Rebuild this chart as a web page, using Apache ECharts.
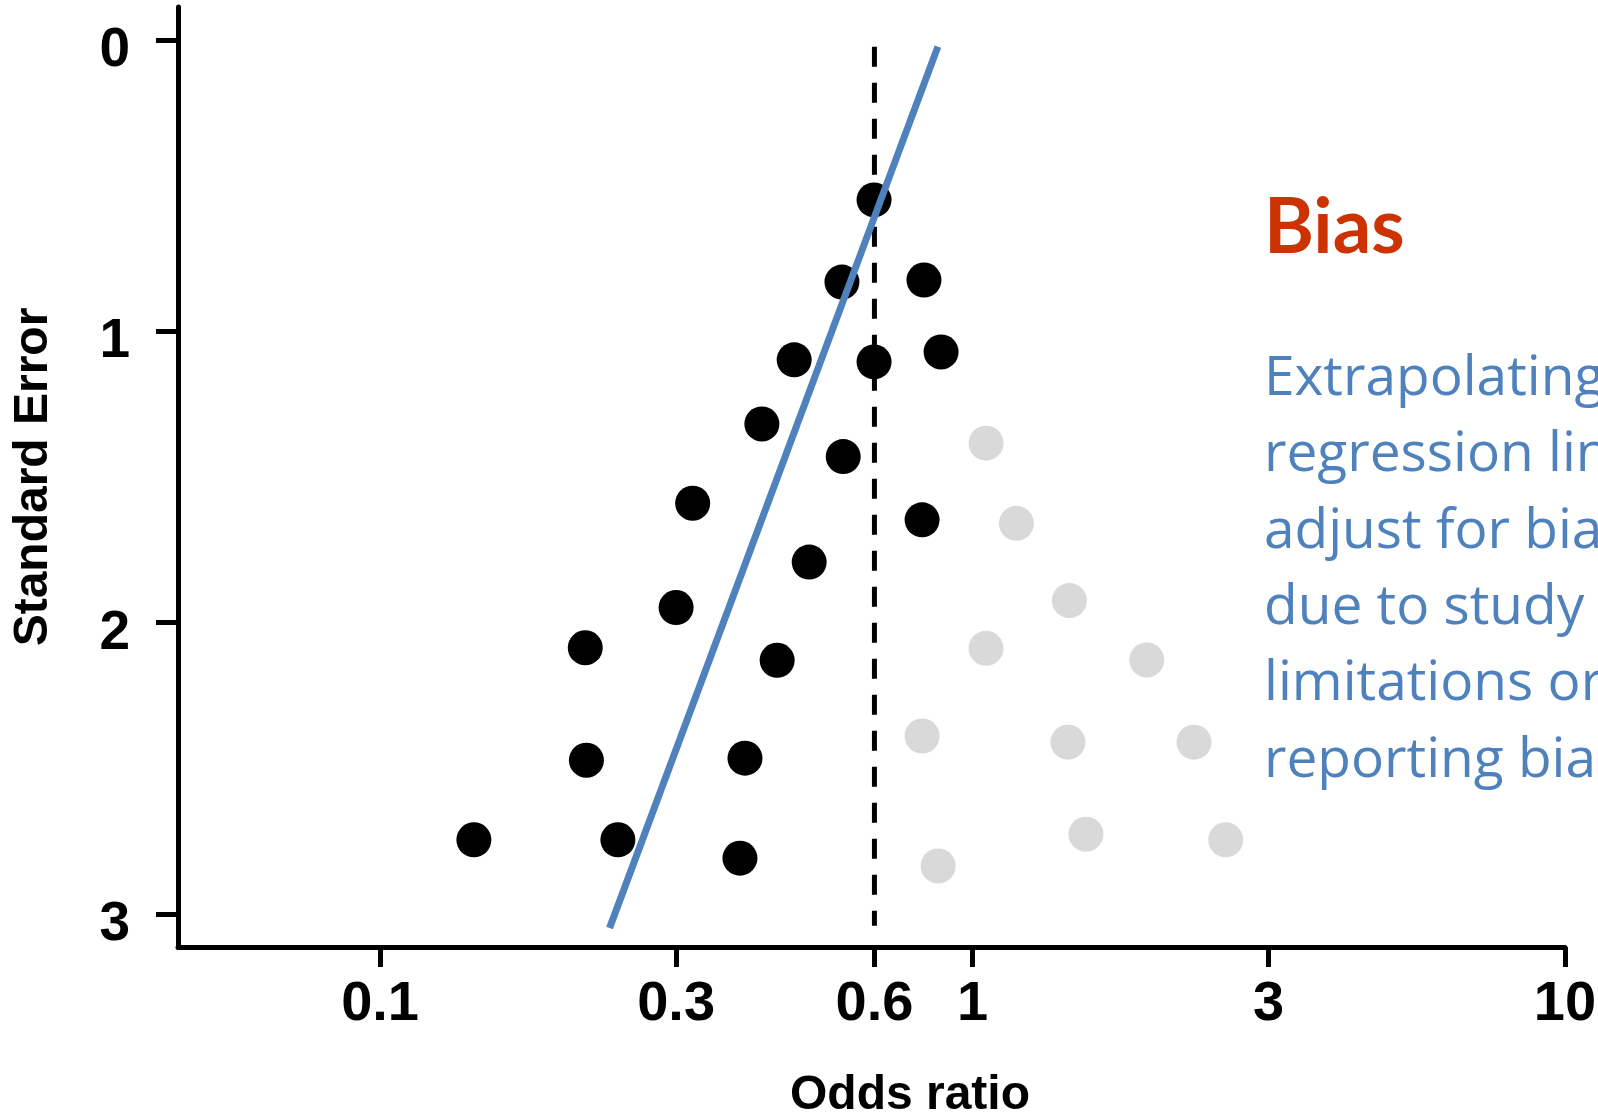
<!DOCTYPE html>
<html>
<head>
<meta charset="utf-8">
<script src="https://cdn.jsdelivr.net/npm/echarts@6/dist/echarts.min.js"></script>
<style>
html,body{margin:0;padding:0;background:#fff;}
#chart{width:1598px;height:1112px;}
</style>
</head>
<body>
<div id="chart"></div>
<script>
// ---- data ----
// observed studies (black)
const studyOR = [0.682, 0.602, 0.828, 0.500, 0.682, 0.885, 0.441, 0.605, 0.337, 0.822,
                 0.530, 0.316, 0.222, 0.468, 0.223, 0.413, 0.144, 0.252, 0.405];
const studySE = [0.549, 0.831, 0.824, 1.098, 1.105, 1.071, 1.318, 1.430, 1.590, 1.647,
                 1.792, 1.948, 2.086, 2.129, 2.472, 2.465, 2.745, 2.745, 2.808];
// missing studies (grey)
const missingOR = [1.054, 1.186, 1.457, 1.054, 1.968, 0.822, 1.449, 2.365, 1.554, 2.675, 0.875];
const missingSE = [1.384, 1.659, 1.924, 2.088, 2.128, 2.389, 2.410, 2.410, 2.726, 2.745, 2.835];
// regression line (end points)
const regressionOR = [0.874, 0.244];
const regressionSE = [0.023, 3.048];
// pooled estimate (dashed line)
const pooledOR = 0.683;
const pooledSE = [0.023, 3.04];
// axis ticks
const xTickValues = [0.1, 0.316, 0.683, 1, 3.16, 10];
const xTickLabels = ['0.1', '0.3', '0.6', '1', '3', '10'];
const yTickValues = [0, 1, 2, 3];
const yTickLabels = ['0', '1', '2', '3'];
const xRange = [0.0456, 10];
const yRange = [-0.113, 3.113];
// annotation text
const titleText = 'Bias';
const noteLines = ['Extrapolating', 'regression line', 'adjust for bias', 'due to study', 'limitations or', 'reporting bias'];

// ---- build ----
const FONT = '"Liberation Sans", Arial, Helvetica, sans-serif';
const lg = Math.log10;
const xTickPos = xTickValues.map(lg);

function labelFor(v, vals, labels) {
  let best = 0;
  for (let i = 1; i < vals.length; i++) {
    if (Math.abs(vals[i] - v) < Math.abs(vals[best] - v)) best = i;
  }
  return labels[best];
}

const studyData = studyOR.map((o, i) => [lg(o), studySE[i]]);
const missingData = missingOR.map((o, i) => [lg(o), missingSE[i]]);
const regressionData = regressionOR.map((o, i) => [lg(o), regressionSE[i]]);
const pooledData = pooledSE.map(s => [lg(pooledOR), s]);

const chart = echarts.init(document.getElementById('chart'), null, {renderer: 'canvas'});
const option = {
  animation: false,
  backgroundColor: '#ffffff',
  grid: {left: 178, right: 33, top: 7, bottom: 165, containLabel: false, outerBoundsMode: 'none'},
  xAxis: {
    type: 'value',
    min: lg(xRange[0]),
    max: lg(xRange[1]),
    name: 'Odds ratio',
    nameLocation: 'middle',
    nameGap: 125,
    nameTextStyle: {fontSize: 48, fontWeight: 'bold', color: '#000', fontFamily: FONT, padding: [0, 0, 0, 77]},
    axisLine: {show: true, onZero: false, lineStyle: {color: '#000', width: 5}},
    axisTick: {show: true, length: 20, customValues: xTickPos, lineStyle: {color: '#000', width: 5}},
    axisLabel: {
      customValues: xTickPos,
      formatter: v => labelFor(v, xTickPos, xTickLabels),
      fontSize: 56, fontWeight: 'bold', color: '#000', fontFamily: FONT, margin: 30
    },
    splitLine: {show: false}
  },
  yAxis: {
    type: 'value',
    inverse: true,
    min: yRange[0],
    max: yRange[1],
    name: 'Standard Error',
    nameLocation: 'middle',
    nameGap: 120,
    nameTextStyle: {fontSize: 48, fontWeight: 'bold', color: '#000', fontFamily: FONT},
    axisLine: {show: true, onZero: false, lineStyle: {color: '#000', width: 5}},
    axisTick: {show: true, length: 22, customValues: yTickValues, lineStyle: {color: '#000', width: 5}},
    axisLabel: {
      customValues: yTickValues,
      formatter: v => labelFor(v, yTickValues, yTickLabels),
      fontSize: 55, fontWeight: 'bold', color: '#000', fontFamily: FONT, margin: 48,
      verticalAlign: 'top', lineHeight: 22
    },
    splitLine: {show: false}
  },
  series: [
    {
      type: 'line', data: pooledData, symbol: 'none', z: 1, silent: true,
      lineStyle: {color: '#000', width: 5, type: [20, 16]}
    },
    {
      type: 'scatter', data: missingData, symbol: 'circle', symbolSize: 35, z: 2,
      itemStyle: {color: '#D9D9D9', opacity: 1}
    },
    {
      type: 'scatter', data: studyData, symbol: 'circle', symbolSize: 35, z: 3,
      itemStyle: {color: '#000000', opacity: 1}
    },
    {
      type: 'line', data: regressionData, symbol: 'none', z: 4, silent: true,
      lineStyle: {color: '#4F81BD', width: 7}
    }
  ],
  graphic: [
    {
      type: 'text', x: 1264, y: 228, z: 10,
      style: {text: titleText, fill: '#CC3300', font: 'bold 76px Lato, "Open Sans", sans-serif',
              align: 'left', verticalAlign: 'middle'}
    },
    {
      type: 'text', x: 1264, y: 341, z: 10,
      style: {text: noteLines.join('\n'), fill: '#4F81BD', font: '55px "Open Sans", "Noto Sans", sans-serif',
              lineHeight: 76.4, align: 'left', verticalAlign: 'top'}
    }
  ]
};
chart.setOption(option);
</script>
</body>
</html>
